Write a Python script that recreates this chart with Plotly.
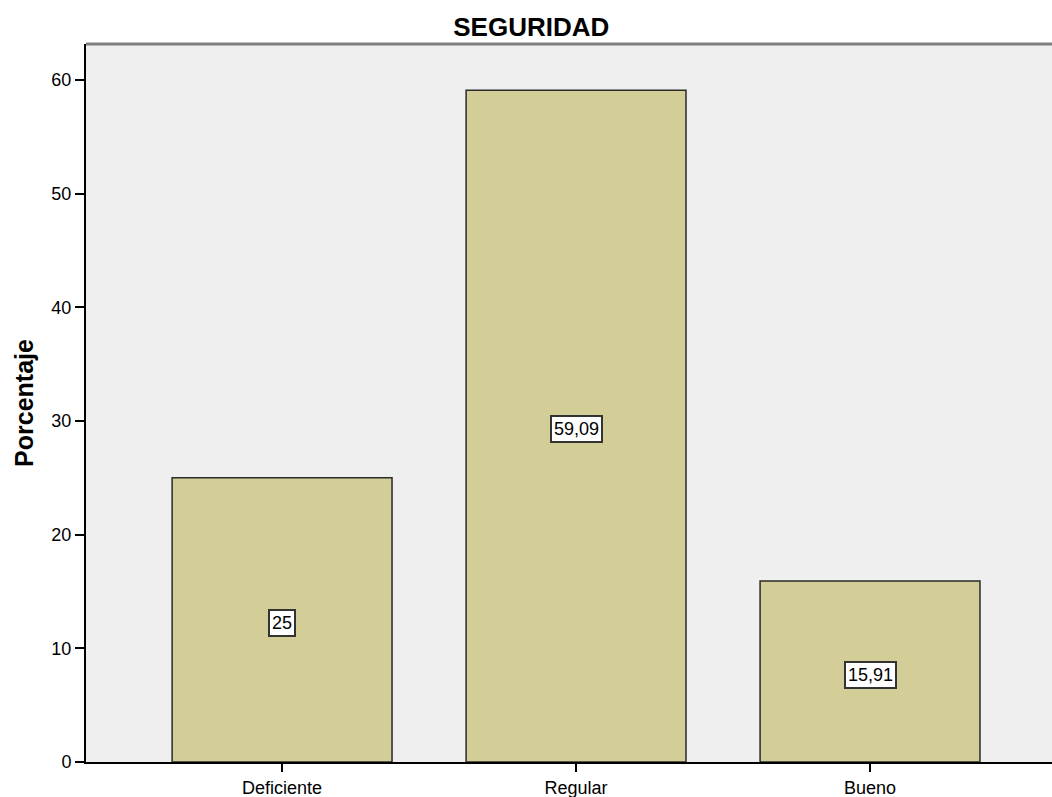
import plotly.graph_objects as go

# Distribution of perceived security (percent of respondents)
categories = ["Deficiente", "Regular", "Bueno"]
percentages = [25.0, 59.09, 15.91]
value_labels = ["25", "59,09", "15,91"]
y_ticks = [0, 10, 20, 30, 40, 50, 60]

FONT = "Liberation Sans, Arial, sans-serif"

fig = go.Figure()
fig.add_trace(go.Bar(
    x=list(range(len(categories))),
    y=percentages,
    width=0.748,
    marker=dict(color="#D3CE98", line=dict(color="#2a2a2a", width=1.5)),
    hoverinfo="skip",
))

# Boxed value labels placed at the middle of each bar
for i, (v, lbl) in enumerate(zip(percentages, value_labels)):
    fig.add_annotation(
        x=i, y=v / 2, yshift=-3, text=lbl, showarrow=False,
        font=dict(family=FONT, size=18, color="#000"),
        bgcolor="#FFFFFF", bordercolor="#333333", borderwidth=2, borderpad=2,
    )

# Grey frame line along the top of the plot area
fig.add_shape(type="line", xref="paper", yref="paper", x0=0, x1=1, y0=1, y1=1,
              line=dict(color="#7f7f7f", width=3))

fig.update_layout(
    width=1052, height=797,
    margin=dict(l=86, r=0, t=44, b=35, pad=0),
    paper_bgcolor="#FFFFFF",
    plot_bgcolor="#EFEFEF",
    showlegend=False,
    title=dict(text="<b>SEGURIDAD</b>", x=0.505, xanchor="center", y=0.966, yanchor="middle",
               font=dict(family=FONT, size=26, color="#000")),
    font=dict(family=FONT, size=18, color="#000"),
)
fig.update_xaxes(
    range=[-0.667, 2.619],
    tickvals=list(range(len(categories))), ticktext=categories,
    ticks="outside", ticklen=8, tickwidth=1.5, tickcolor="#000",
    showline=True, linecolor="#000", linewidth=2,
    showgrid=False, zeroline=False,
    tickfont=dict(family=FONT, size=18, color="#000"),
)
fig.update_yaxes(
    range=[0, 63.15],
    tickvals=y_ticks,
    ticks="outside", ticklen=9, tickwidth=1.5, tickcolor="#000",
    showline=True, linecolor="#000", linewidth=2,
    showgrid=False, zeroline=False,
    tickfont=dict(family=FONT, size=18, color="#000"),
    title=dict(text="<b>Porcentaje</b>", standoff=11,
               font=dict(family=FONT, size=25, color="#000")),
)

fig.write_html("out.html")
